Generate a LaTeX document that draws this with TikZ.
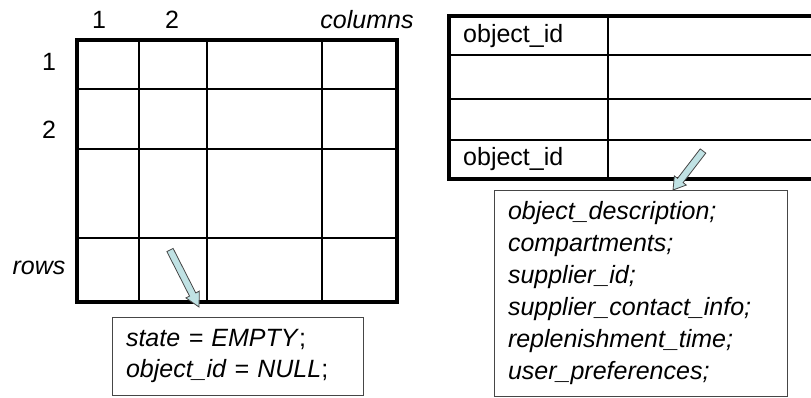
\documentclass[tikz,border=0pt]{standalone}
\usepackage{fontspec}
\setmainfont{Liberation Sans}
\usetikzlibrary{calc}
\definecolor{arrowfill}{RGB}{192,226,228}
\definecolor{boxline}{RGB}{70,70,70}
\tikzset{
  lbl/.style={inner sep=0pt, font=\fontsize{25}{30}\selectfont},
  digit/.style={inner sep=0pt, font=\fontsize{25}{30}\selectfont},
  thinline/.style={line width=1.4pt, black},
  thickline/.style={line width=3.2pt, black, line join=miter},
  infobox/.style={draw=boxline, line width=0.9pt, rectangle, inner ysep=0pt, inner xsep=14pt, align=left},
  blockarrow/.style={draw=boxline, line width=0.8pt, fill=arrowfill, line join=miter}
}
\begin{document}
\begin{tikzpicture}[x=1pt, y=-1pt]
\useasboundingbox (0,0) rectangle (811,397);

% ---------- left grid ----------
\draw[thinline] (139,40) -- (139,302) (207,40) -- (207,302) (322,40) -- (322,302);
\draw[thinline] (77,89) -- (397,89) (77,149) -- (397,149) (77,238) -- (397,238);
\draw[thickline] (77,40) rectangle (397,302);

\node[digit] (c1) at (99,20) {1};
\node[digit] (c2) at (172,20) {2};
\node[lbl, font=\fontsize{25}{30}\selectfont\itshape] (cols) at (367,20) {columns};
\node[digit] (r1) at (49,62) {1};
\node[digit] (r2) at (49,130) {2};
\node[lbl, font=\fontsize{25}{30}\selectfont\itshape] (rows) at (39,268) {rows};

\node[infobox, font=\fontsize{25}{30.5}\selectfont, text width=223pt, minimum height=78pt] (cellbox) at (237.5,356)
  {\textit{state = EMPTY};\\ \textit{object\_id = NULL};};

% ---------- right table ----------
\draw[thinline] (608,16) -- (608,179);
\draw[thinline] (449,55) -- (811,55) (449,99) -- (811,99) (449,140) -- (811,140);
\draw[thickline] (811,16) -- (449,16) -- (449,179) -- (811,179);

\node[lbl, anchor=west] (oid1) at (463,36) {object\_id};
\node[lbl, anchor=west] (oid2) at (463,159) {object\_id};

\node[infobox, font=\fontsize{25}{32}\selectfont\itshape, text width=265pt, minimum height=206pt] (objbox) at (640.5,293)
  {object\_description;\\ compartments;\\ supplier\_id;\\ supplier\_contact\_info;\\ replenishment\_time;\\ user\_preferences;};

% ---------- block arrows ----------
\coordinate (s1) at (170,250);
\coordinate (e1) at (199,307);
\coordinate (h1) at ($(e1)!14pt!(s1)$);
\draw[blockarrow] ($(s1)!3.5pt!90:(e1)$) -- ($(h1)!3.5pt!-90:(s1)$) -- ($(h1)!7.5pt!-90:(s1)$) -- (e1)
  -- ($(h1)!7.5pt!90:(s1)$) -- ($(h1)!3.5pt!90:(s1)$) -- ($(s1)!3.5pt!-90:(e1)$) -- cycle;

\coordinate (s2) at (703,151);
\coordinate (e2) at (673,190);
\coordinate (h2) at ($(e2)!12pt!(s2)$);
\draw[blockarrow] ($(s2)!3.5pt!90:(e2)$) -- ($(h2)!3.5pt!-90:(s2)$) -- ($(h2)!7.5pt!-90:(s2)$) -- (e2)
  -- ($(h2)!7.5pt!90:(s2)$) -- ($(h2)!3.5pt!90:(s2)$) -- ($(s2)!3.5pt!-90:(e2)$) -- cycle;
\end{tikzpicture}
\end{document}
